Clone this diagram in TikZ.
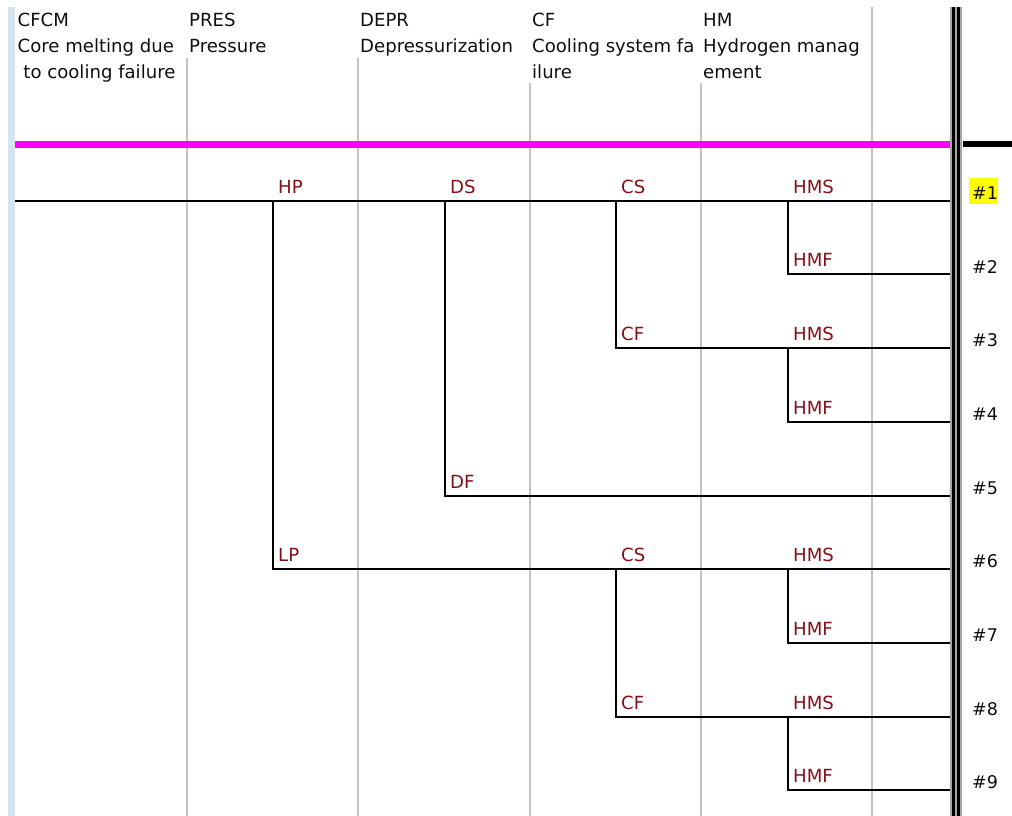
\documentclass[tikz,border=0pt]{standalone}
\usepackage{fontspec}
\setmainfont{DejaVu Sans}
\definecolor{lblred}{RGB}{135,15,25}
\definecolor{hdrtxt}{RGB}{15,15,15}
\definecolor{colgray}{RGB}{195,195,195}
\definecolor{leftbar}{RGB}{214,228,240}
\definecolor{magline}{RGB}{255,0,255}
\definecolor{hiyellow}{RGB}{255,255,0}
\begin{document}
\begin{tikzpicture}[x=1pt,y=-1pt,
  txt/.style={anchor=base west,inner sep=0pt,font=\fontsize{18.1}{21}\selectfont,text=hdrtxt},
  brlbl/.style={anchor=base west,inner sep=0pt,font=\fontsize{18.1}{21}\selectfont,text=lblred},
  rowlbl/.style={anchor=base west,inner sep=0pt,font=\fontsize{17.5}{20}\selectfont,text=hdrtxt},
  colline/.style={draw=colgray,line width=1.2pt},
  tree/.style={draw=black,line width=1.4pt}]
\useasboundingbox (0,0) rectangle (1012,816);
\fill[white] (0,0) rectangle (1012,816);
% left bar
\fill[leftbar] (7.5,7) rectangle (15,816);
% column lines
\draw[colline] (187,58) -- (187,816);
\draw[colline] (358,58) -- (358,816);
\draw[colline] (530,83) -- (530,816);
\draw[colline] (701,83) -- (701,816);
\draw[colline] (872,7) -- (872,816);
% magenta line
\fill[magline] (15,140.5) rectangle (950,147.5);
% right black band
\fill[black] (963,141) rectangle (1012,147);
% double line
\fill[gray!70] (950,7) rectangle (962,816);
\fill[black] (952,7) rectangle (954.5,816);
\fill[black] (956.5,7) rectangle (960,816);
% headers
\node[txt] (h1a) at (17.5,27) {CFCM};
\node[txt] (h1b) at (17.5,53) {Core melting due};
\node[txt] (h1c) at (17.5,78) {\ to cooling failure};
\node[txt] (h2a) at (189,27) {PRES};
\node[txt] (h2b) at (189,53) {Pressure};
\node[txt] (h3a) at (360,27) {DEPR};
\node[txt] (h3b) at (360,53) {Depressurization};
\node[txt] (h4a) at (532,27) {CF};
\node[txt] (h4b) at (532,53) {Cooling system fa};
\node[txt] (h4c) at (532,78) {ilure};
\node[txt] (h5a) at (703,27) {HM};
\node[txt] (h5b) at (703,53) {Hydrogen manag};
\node[txt] (h5c) at (703,78) {ement};
% tree coordinates
\coordinate (s) at (15,201);
\coordinate (hp) at (273,201);
\coordinate (lp) at (273,569);
\coordinate (ds) at (445,201);
\coordinate (df) at (445,496);
\coordinate (cs1) at (616,201);
\coordinate (cf1) at (616,348);
\coordinate (hms1) at (788,201);
\coordinate (hmf1) at (788,274);
\coordinate (hms2) at (788,348);
\coordinate (hmf2) at (788,422);
\coordinate (cs2) at (616,569);
\coordinate (cf2) at (616,717);
\coordinate (hms3) at (788,569);
\coordinate (hmf3) at (788,643);
\coordinate (hms4) at (788,717);
\coordinate (hmf4) at (788,790);
\coordinate (e1) at (950,201);
\coordinate (e2) at (950,274);
\coordinate (e3) at (950,348);
\coordinate (e4) at (950,422);
\coordinate (e5) at (950,496);
\coordinate (e6) at (950,569);
\coordinate (e7) at (950,643);
\coordinate (e8) at (950,717);
\coordinate (e9) at (950,790);
% tree lines
\draw[tree] (s) -- (e1);
\draw[tree] (hp) -- (lp) -- (e6);
\draw[tree] (ds) -- (df) -- (e5);
\draw[tree] (cs1) -- (cf1) -- (e3);
\draw[tree] (hms1) -- (hmf1) -- (e2);
\draw[tree] (hms2) -- (hmf2) -- (e4);
\draw[tree] (cs2) -- (cf2) -- (e8);
\draw[tree] (hms3) -- (hmf3) -- (e7);
\draw[tree] (hms4) -- (hmf4) -- (e9);
% branch labels
\node[brlbl] (lHP) at (278,193) {HP};
\node[brlbl] (lDS) at (450,193) {DS};
\node[brlbl] (lCS1) at (621,193) {CS};
\node[brlbl] (lHMS1) at (793,193) {HMS};
\node[brlbl] (lHMF1) at (793,266) {HMF};
\node[brlbl] (lCF1) at (621,340) {CF};
\node[brlbl] (lHMS2) at (793,340) {HMS};
\node[brlbl] (lHMF2) at (793,414) {HMF};
\node[brlbl] (lDF) at (450,488) {DF};
\node[brlbl] (lLP) at (278,561) {LP};
\node[brlbl] (lCS2) at (621,561) {CS};
\node[brlbl] (lHMS3) at (793,561) {HMS};
\node[brlbl] (lHMF3) at (793,635) {HMF};
\node[brlbl] (lCF2) at (621,709) {CF};
\node[brlbl] (lHMS4) at (793,709) {HMS};
\node[brlbl] (lHMF4) at (793,782) {HMF};
% row labels
\fill[hiyellow] (969,178) rectangle (998,204);
\node[rowlbl] (r1) at (972,199.5) {\#1};
\node[rowlbl] (r2) at (972,273) {\#2};
\node[rowlbl] (r3) at (972,346.5) {\#3};
\node[rowlbl] (r4) at (972,420.5) {\#4};
\node[rowlbl] (r5) at (972,494.5) {\#5};
\node[rowlbl] (r6) at (972,567.5) {\#6};
\node[rowlbl] (r7) at (972,641.5) {\#7};
\node[rowlbl] (r8) at (972,715.5) {\#8};
\node[rowlbl] (r9) at (972,788.5) {\#9};
\end{tikzpicture}
\end{document}
